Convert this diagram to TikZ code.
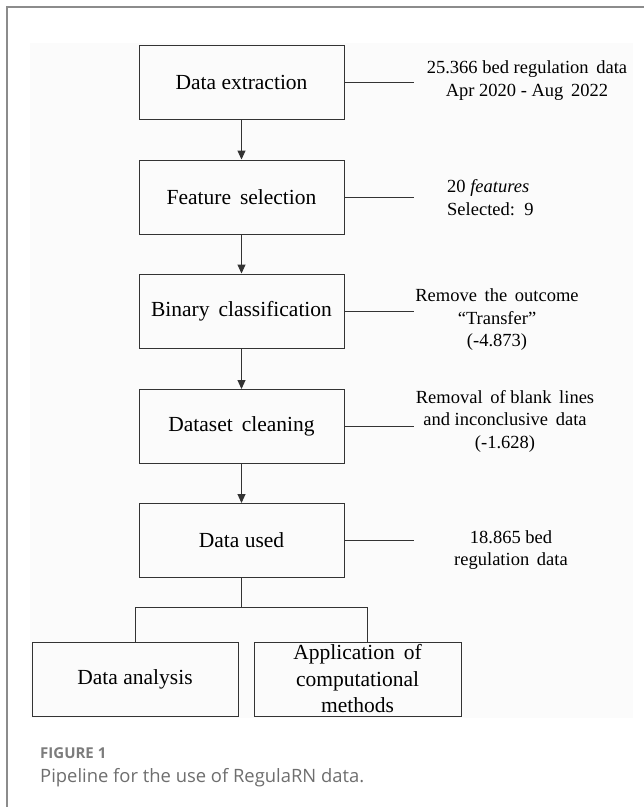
\documentclass[tikz,border=0pt]{standalone}
\usepackage{fontspec}
\setmainfont{Liberation Serif}
\newfontfamily\capfont{Open Sans}
\usepackage{tikz}
\usetikzlibrary{arrows.meta}
\definecolor{framegray}{HTML}{8C8C8C}
\definecolor{captext}{HTML}{6E6E6E}
\definecolor{panelgray}{HTML}{FBFBFB}
\tikzset{
  stepbox/.style = {draw=black!80, line width=1pt, minimum width=205pt,
                    minimum height=74pt, inner sep=0pt, align=center,
                    font=\fontsize{21.5}{26.5}\selectfont},
  note/.style    = {align=center, inner sep=0pt,
                    font=\fontsize{18.5}{22.5}\selectfont},
  flow/.style    = {draw=black!80, line width=1pt,
                    -{Triangle[length=9pt,width=8pt]}},
  link/.style    = {draw=black!80, line width=1pt}
}

\begin{document}
\begin{tikzpicture}[x=1pt,y=-1pt]
  \useasboundingbox (0,0) rectangle (644,807);
  \fill[panelgray] (30,43) rectangle (633,718);
  \draw[framegray, line width=2pt] (644,7) -- (7,7) -- (7,807);

  \node[stepbox] (ext)  at (241.5,82)  {Data extraction};
  \node[stepbox] (sel)  at (241.5,197) {Feature\, selection};
  \node[stepbox] (bin)  at (241.5,311) {Binary\, classification};
  \node[stepbox] (cln)  at (241.5,426.5) {Dataset\, cleaning};
  \node[stepbox] (used) at (241.5,540.5) {Data used};
  \node[stepbox, minimum width=206pt] (ana) at (135,679) {Data analysis};
  \node[stepbox, minimum width=207pt] (app) at (357.5,679)
    {Application\, of\\computational\\methods};

  \node[note] (n1) at (527,80.5) {25.366 bed regulation\, data\\Apr 2020 - Aug\, 2022};
  \node[note, align=left, anchor=west] (n2) at (447,197.5) {20 \textit{features}\\Selected:\, 9};
  \node[note] (n3) at (497,320) {Remove\, the\, outcome\\``Transfer''\\(-4.873)};
  \node[note] (n4) at (505,421) {Removal\, of blank\, lines\\and inconclusive\, data\\(-1.628)};
  \node[note] (n5) at (511,550) {18.865 bed\\regulation\, data};

  \coordinate (s1) at (414,82);
  \coordinate (s2) at (414,197);
  \coordinate (s3) at (414,311);
  \coordinate (s4) at (414,426.5);
  \coordinate (s5) at (414,540.5);
  \coordinate (fork) at (241.5,607);
  \coordinate (drop) at (367,642);

  \draw[flow] (ext) -- (sel);
  \draw[flow] (sel) -- (bin);
  \draw[flow] (bin) -- (cln);
  \draw[flow] (cln) -- (used);

  \draw[link] (ext.east)  -- (s1);
  \draw[link] (sel.east)  -- (s2);
  \draw[link] (bin.east)  -- (s3);
  \draw[link] (cln.east)  -- (s4);
  \draw[link] (used.east) -- (s5);

  \draw[link] (used.south) -- (fork);
  \draw[link] (fork) -| (ana.north);
  \draw[link] (fork) -| (drop);

  \node[anchor=base west, inner sep=0pt, text=captext!90,
        font=\capfont\bfseries\fontsize{15}{17}\selectfont] (fig) at (40,758) {FIGURE 1};
  \node[anchor=base west, inner sep=0pt, text=captext,
        font=\capfont\fontsize{18.4}{22}\selectfont] (cap) at (40,782)
    {Pipeline for the use of RegulaRN data.};
\end{tikzpicture}
\end{document}
